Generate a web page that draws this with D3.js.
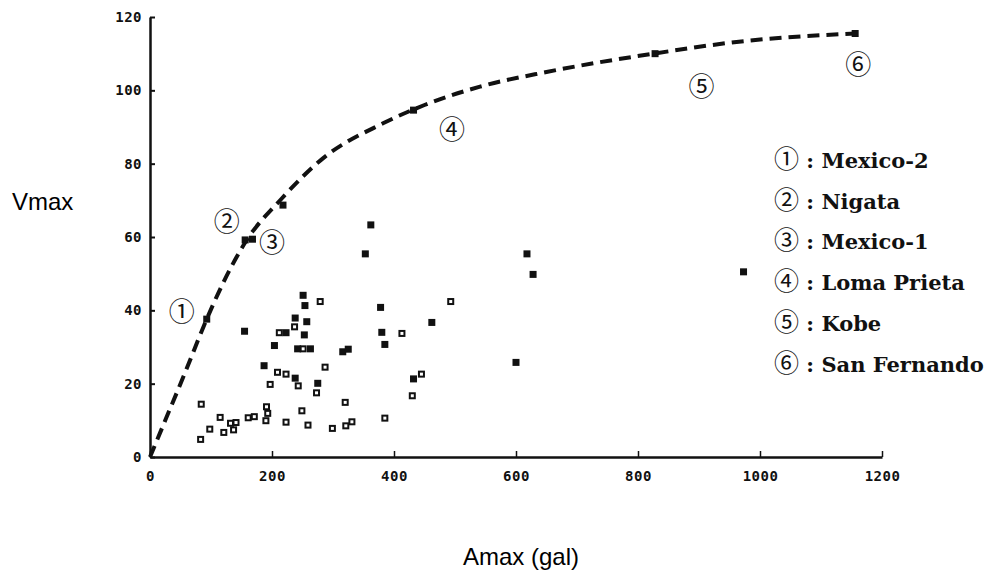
<html>
<style>
    body {
      margin: 0;
      background: #fff;
    }
    .axis path, .axis line {
      stroke: #111;
    }
    .tick text {
      font: bold 14px "DejaVu Sans Mono", monospace;
      fill: #111;
    }
</style>
<body>
<script src="https://cdn.jsdelivr.net/npm/d3@7"></script>
<script>
// values
const xTicks = [0, 200, 400, 600, 800, 1000, 1200]
const yTicks = [0, 20, 40, 60, 80, 100, 120]

// filled squares
const filledAmax = [93, 155, 156, 168, 218, 251, 254, 238, 257, 223, 253, 204, 242, 263, 187, 238, 275,
                    378, 380, 385, 316, 325, 362, 353, 462, 432, 618, 628, 600, 973, 432, 828, 1156]
const filledVmax = [37.6, 34.3, 59.2, 59.4, 68.7, 44.1, 41.3, 37.9, 36.9, 33.9, 33.3, 30.4, 29.5, 29.5, 24.9, 21.5, 20.1,
                    40.8, 34.0, 30.7, 28.7, 29.4, 63.3, 55.4, 36.7, 21.3, 55.4, 49.8, 25.8, 50.5, 94.6, 110, 115.5]

// open squares
const openAmax = [84, 83, 98, 115, 121, 132, 141, 137, 161, 171, 191, 193, 190, 197, 209, 223, 243, 273,
                  287, 223, 249, 259, 299, 320, 321, 331, 385, 430, 445, 493, 413, 212, 237, 279, 251]
const openVmax = [14.4, 4.8, 7.6, 10.8, 6.7, 9.2, 9.4, 7.4, 10.7, 11.0, 13.7, 11.9, 9.9, 19.8, 23.1, 22.6, 19.4, 17.5,
                  24.5, 9.5, 12.6, 8.7, 7.8, 14.9, 8.5, 9.6, 10.6, 16.7, 22.6, 42.4, 33.7, 33.9, 35.5, 42.4, 29.5]

// envelope curve (dashed)
const curveAmax = [0, 25, 55, 93, 120, 156, 216, 284, 382, 450, 541, 650, 825, 978, 1156]
const curveVmax = [0, 10, 22, 37.6, 47.5, 58.5, 70.5, 81.5, 91, 96, 101, 105, 110, 113.5, 115.5]

// earthquake labels
const quakeMarks = ["①", "②", "③", "④", "⑤", "⑥"]
const quakeNames = ["Mexico-2", "Nigata", "Mexico-1", "Loma Prieta", "Kobe", "San Fernando"]
const markAmax = [52, 126, 200, 495, 904, 1161]
const markVmax = [39.5, 64.2, 58.3, 89.2, 100.8, 106.9]

const W = 992, H = 572

const svg = d3.select("body").append("svg")
    .attr("width", W)
    .attr("height", H)

const x = d3.scaleLinear().domain([0, 1200]).range([150, 882])
const y = d3.scaleLinear().domain([0, 120]).range([457, 17])

// axes, ticks pointing inward like the original
const xAxis = svg.append("g")
    .attr("class", "axis")
    .attr("transform", `translate(0,${y(0)})`)
    .call(d3.axisBottom(x).tickValues(xTicks).tickFormat(d3.format("d"))
        .tickSize(-6).tickPadding(14).tickSizeOuter(0))
xAxis.select(".domain").attr("stroke-width", 2.5)
xAxis.selectAll(".tick line").attr("stroke-width", 1.5)
xAxis.selectAll(".tick text").attr("letter-spacing", 0.5)

const yAxis = svg.append("g")
    .attr("class", "axis")
    .attr("transform", `translate(${x(0)},0)`)
    .call(d3.axisLeft(y).tickValues(yTicks).tickSize(-5).tickPadding(8).tickSizeOuter(0))
yAxis.select(".domain").attr("stroke-width", 2.5)
yAxis.selectAll(".tick line").attr("stroke-width", 2)
yAxis.selectAll(".tick text").attr("letter-spacing", 0.5)

// dashed envelope
const line = d3.line()
    .x(d => x(d[0]))
    .y(d => y(d[1]))
    .curve(d3.curveMonotoneX)

svg.append("path")
    .datum(d3.zip(curveAmax, curveVmax))
    .attr("d", line)
    .attr("fill", "none")
    .attr("stroke", "#111")
    .attr("stroke-width", 4)
    .attr("stroke-dasharray", "12,7")

const s = 7
svg.append("g").selectAll("rect")
    .data(d3.zip(openAmax, openVmax))
    .join("rect")
    .attr("x", d => x(d[0]) - s / 2 + 1)
    .attr("y", d => y(d[1]) - s / 2 + 1)
    .attr("width", s - 2)
    .attr("height", s - 2)
    .attr("fill", "#fff")
    .attr("stroke", "#111")
    .attr("stroke-width", 2)

svg.append("g").selectAll("rect")
    .data(d3.zip(filledAmax, filledVmax))
    .join("rect")
    .attr("x", d => x(d[0]) - s / 2)
    .attr("y", d => y(d[1]) - s / 2)
    .attr("width", s)
    .attr("height", s)
    .attr("fill", "#111")

// circled numbers on the chart
svg.append("g").selectAll("text")
    .data(quakeMarks)
    .join("text")
    .attr("x", (d, i) => x(markAmax[i]))
    .attr("y", (d, i) => y(markVmax[i]))
    .attr("text-anchor", "middle")
    .attr("dominant-baseline", "central")
    .style("font", '26px "DejaVu Serif", "Noto Sans CJK JP", serif')
    .attr("fill", "#111")
    .text(d => d)

// legend
const legend = svg.append("g").selectAll("text")
    .data(quakeNames)
    .join("text")
    .attr("x", 774)
    .attr("y", (d, i) => 168 + i * 40.7)
    .style("font", 'bold 21px "DejaVu Serif", "Noto Sans CJK JP", serif')
    .attr("fill", "#111")
    .attr("xml:space", "preserve")

legend.append("tspan")
    .style("font", '25px "DejaVu Serif", "Noto Sans CJK JP", serif')
    .text((d, i) => quakeMarks[i])
legend.append("tspan")
    .text(d => ` : ${d}`)

// axis titles
svg.append("text")
    .attr("x", 12)
    .attr("y", 210)
    .style("font", '24px "Liberation Sans", Arial, sans-serif')
    .text("Vmax")

svg.append("text")
    .attr("x", 521)
    .attr("y", 565)
    .attr("text-anchor", "middle")
    .style("font", '24px "Liberation Sans", Arial, sans-serif')
    .text("Amax (gal)")
</script>
</body>
</html>
